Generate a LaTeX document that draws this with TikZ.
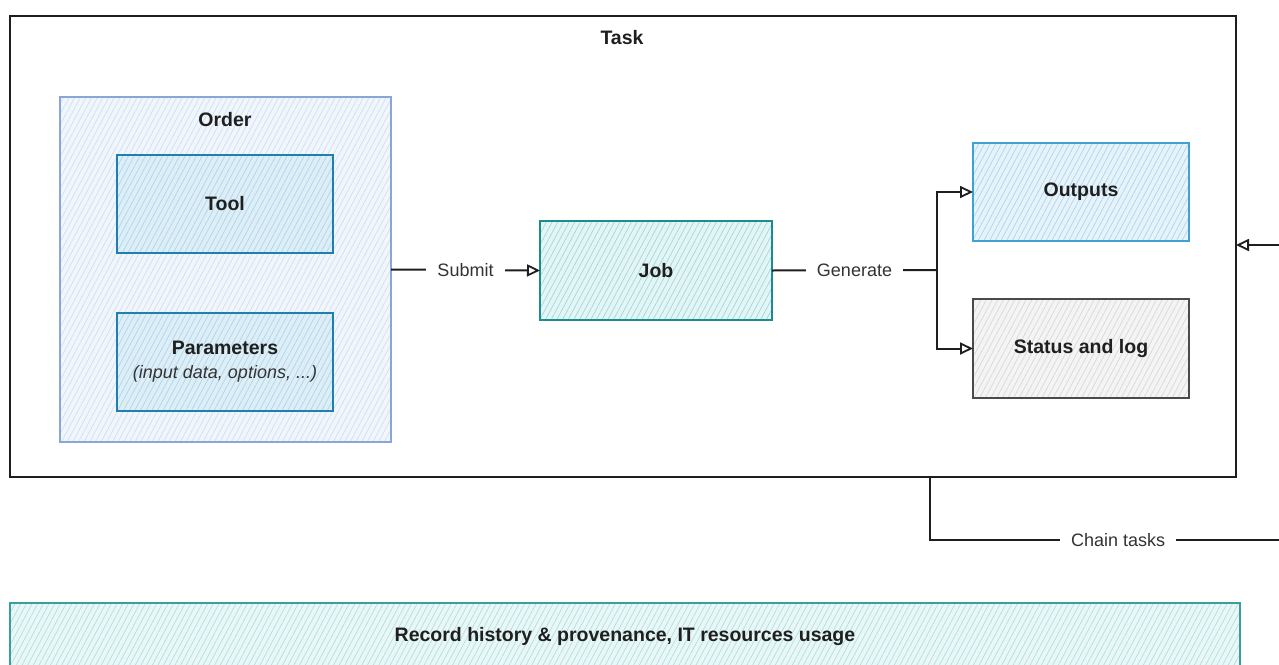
\documentclass[tikz,border=0pt]{standalone}
\usepackage{fontspec}
\setmainfont{Liberation Sans}
\usetikzlibrary{arrows.meta,patterns.meta}

% stroke / fill palette
\definecolor{taskline}{HTML}{1E1E1E}
\definecolor{orderline}{HTML}{8AA6D6}
\definecolor{orderfill}{HTML}{F1F6FC}
\definecolor{orderhatch}{HTML}{CFDFF2}
\definecolor{blueline}{HTML}{1F7FAE}
\definecolor{bluefill}{HTML}{DDEEF7}
\definecolor{bluehatch}{HTML}{AED5EA}
\definecolor{outline}{HTML}{3FA3D0}
\definecolor{outfill}{HTML}{E7F3FA}
\definecolor{tealline}{HTML}{1C8C8F}
\definecolor{tealfill}{HTML}{E4F5F5}
\definecolor{tealhatch}{HTML}{A2D8D9}
\definecolor{recline}{HTML}{3A9E9E}
\definecolor{recfill}{HTML}{EAF7F7}
\definecolor{rechatch}{HTML}{B0DFDF}
\definecolor{greyline}{HTML}{4A4A4A}
\definecolor{greyfill}{HTML}{F4F4F4}
\definecolor{greyhatch}{HTML}{D8D8D8}
\definecolor{labeltext}{HTML}{333333}

\tikzset{
  x=1pt, y=-1pt,
  hbox/.style n args={3}{
    draw=#1, line width=1.8pt, inner sep=0pt, outer sep=0pt,
    preaction={fill=#2},
    pattern={Lines[angle=62, distance=5pt, line width=0.7pt]},
    pattern color=#3,
    font=\bfseries\fontsize{19.5}{23}\selectfont, text=black!88,
    align=center
  },
  title/.style={font=\bfseries\fontsize{19.5}{23}\selectfont, text=black!88},
  lbl/.style={fill=white, inner sep=0pt, inner xsep=11pt,
    font=\fontsize{18}{21}\selectfont, text=labeltext},
  conn/.style={draw=taskline, line width=2pt,
    -{Triangle[open, length=13pt, width=12pt, line width=1.8pt]}},
  plain/.style={draw=taskline, line width=2pt}
}

\begin{document}
\begin{tikzpicture}
\clip (0,0) rectangle (1279,664);
\fill[white] (0,0) rectangle (1279,664);

% outer task frame
\node[draw=taskline, line width=2pt, fill=white, minimum width=1226pt,
      minimum height=461pt, inner sep=0pt, outer sep=0pt] (task) at (623,246.5) {};
\node[title] (tasktitle) at (622,38) {Task};

% order container with its two parts
\node[hbox={orderline}{orderfill}{orderhatch}, line width=1.5pt,
      minimum width=331pt, minimum height=345pt] (order) at (225.5,269.5) {};
\node[title] (ordertitle) at (225,120) {Order};
\node[hbox={blueline}{bluefill}{bluehatch}, minimum width=216pt,
      minimum height=98pt] (tool) at (225,204) {Tool};
\node[hbox={blueline}{bluefill}{bluehatch}, minimum width=216pt,
      minimum height=98pt] (params) at (225,362)
  {Parameters\\[1pt]{\mdseries\itshape\fontsize{18}{21}\selectfont\color{labeltext}(input data, options, ...)}};

% job
\node[hbox={tealline}{tealfill}{tealhatch}, minimum width=232pt,
      minimum height=99pt] (job) at (656,270.5) {Job};

% results
\node[hbox={outline}{outfill}{bluehatch}, minimum width=216pt,
      minimum height=98pt] (outputs) at (1081,192) {Outputs};
\node[hbox={greyline}{greyfill}{greyhatch}, minimum width=216pt,
      minimum height=99pt] (status) at (1081,348.5) {Status and log};

% provenance bar
\node[hbox={recline}{recfill}{rechatch}, minimum width=1230pt,
      minimum height=66pt] (record) at (625,636)
  {Record history \& provenance, IT resources usage};

% connectors
\coordinate (split) at (937,270);
\draw[conn] (order.east) -- node[lbl]{Submit} (job.west);
\draw[plain] (job.east) -- node[lbl]{Generate} (split);
\draw[conn] (split) |- (outputs.west);
\draw[conn] (split) |- (status.west);

\coordinate (chainlow) at (930,540);
\coordinate (chainfar) at (1292,540);
\coordinate (chaintop) at (1292,245);
\draw[conn] (chainlow |- task.south) -- (chainlow)
  -- node[lbl, pos=0.52]{Chain tasks} (chainfar)
  -- (chaintop) -- (chaintop -| task.east);
\end{tikzpicture}
\end{document}
